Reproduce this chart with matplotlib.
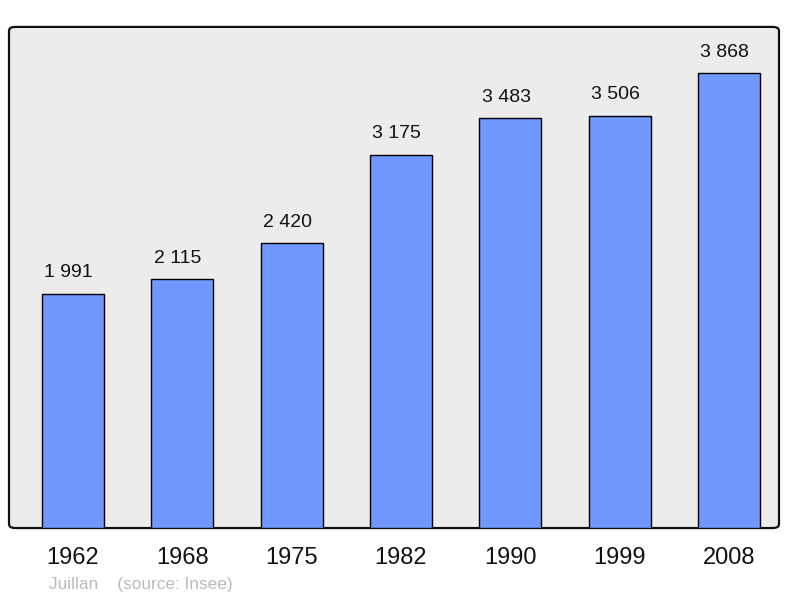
import matplotlib.pyplot as plt
from matplotlib.patches import FancyBboxPatch

years = ['1962', '1968', '1975', '1982', '1990', '1999', '2008']
population = [1991, 2115, 2420, 3175, 3483, 3506, 3868]
value_labels = ['1 991', '2 115', '2 420', '3 175', '3 483', '3 506', '3 868']

plt.rcParams['font.family'] = ['Liberation Sans', 'DejaVu Sans']

fig = plt.figure(figsize=(8, 5.98), dpi=100)
ax = fig.add_axes([0.01125, 0.117, 0.9625, 0.838])
ax.set_facecolor('none')

# rounded frame with gray fill
frame = FancyBboxPatch((0, 0), 1, 1, boxstyle='round,pad=0,rounding_size=0.008',
                       transform=ax.transAxes, facecolor='#ececec',
                       edgecolor='#111111', linewidth=1.6, zorder=0, clip_on=False)
ax.add_patch(frame)

x = list(range(len(years)))
ax.bar(x, population, width=0.567, color='#7198ff', edgecolor='black',
       linewidth=1.0, zorder=2)

for xi, v, lab in zip(x, population, value_labels):
    ax.annotate(lab, (xi, v), xytext=(-3, 9), textcoords='offset points',
                ha='center', va='bottom', fontsize=14, color='#111111')

ax.set_xlim(-0.585, 6.457)
ax.set_ylim(0, 4260)
ax.set_xticks(x)
ax.set_xticklabels(years, fontsize=17, color='#111111')
ax.tick_params(axis='x', length=0, pad=14)
ax.set_yticks([])
for s in ax.spines.values():
    s.set_visible(False)

fig.text(49 / 800, 1 - 585 / 598, 'Juillan    (source: Insee)', fontsize=12.4,
         color='#bbbbbb', ha='left', va='center')

fig.savefig('out.png', dpi=100)
